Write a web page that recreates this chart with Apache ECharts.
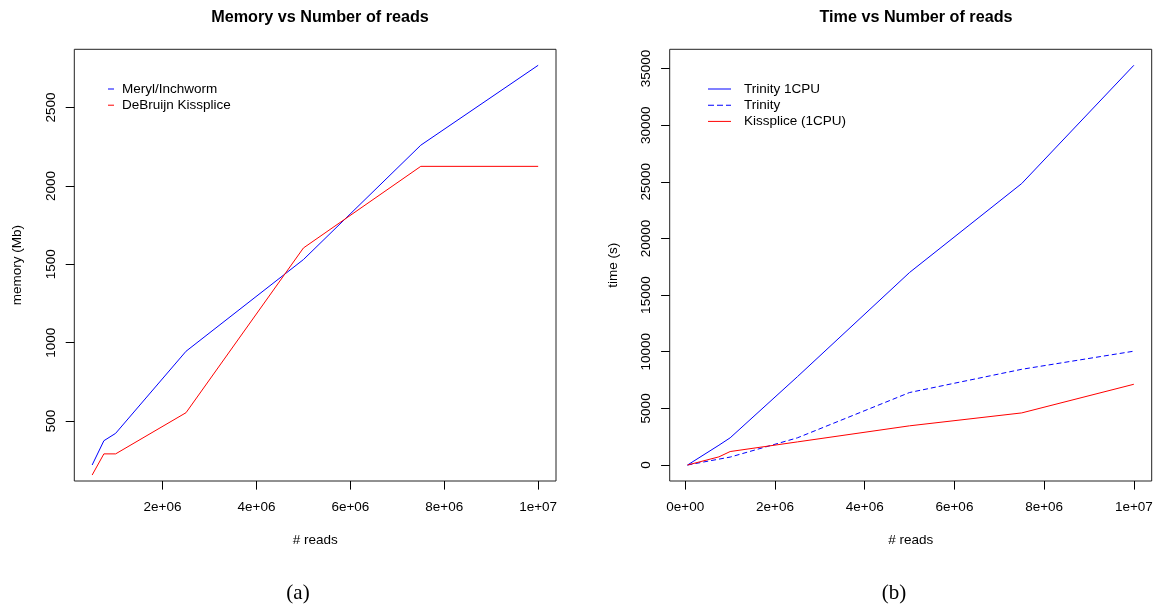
<!DOCTYPE html>
<html>
<head>
<meta charset="utf-8">
<script src="https://cdn.jsdelivr.net/npm/echarts@6/dist/echarts.min.js"></script>
<style>
html,body{margin:0;padding:0;background:#fff;}
#c{width:1160px;height:605px;}
</style>
</head>
<body>
<div id="c"></div>
<script>
// ---- data ----
const memReads = [5e5, 7.5e5, 1e6, 2.5e6, 5e6, 7.5e6, 1e7];
const merylMem = [219, 374, 421, 945, 1530, 2260, 2770];
const kissMem = [155, 290, 290, 553, 1604, 2125, 2125];

const timeReads = [5e4, 7.5e5, 1e6, 2.5e6, 5e6, 7.5e6, 1e7];
const trinity1cpu = [0, 1750, 2400, 7800, 17000, 24850, 35290];
const trinity = [0, 520, 700, 2400, 6400, 8450, 10050];
const kiss1cpu = [0, 720, 1190, 2040, 3460, 4600, 7130];

const memXTicks = [2e6, 4e6, 6e6, 8e6, 1e7];
const memXTickLabels = ['2e+06', '4e+06', '6e+06', '8e+06', '1e+07'];
const memYTicks = [500, 1000, 1500, 2000, 2500];
const timeXTicks = [0, 2e6, 4e6, 6e6, 8e6, 1e7];
const timeXTickLabels = ['0e+00', '2e+06', '4e+06', '6e+06', '8e+06', '1e+07'];
const timeYTicks = [0, 5000, 10000, 15000, 20000, 25000, 30000, 35000];

// ---- helpers ----
function rRange(arr) { // R's default 4% axis extension
  const mn = Math.min(...arr), mx = Math.max(...arr), r = mx - mn;
  return [mn - 0.04 * r, mx + 0.04 * r];
}
function pairs(xs, ys) { return xs.map((x, i) => [x, ys[i]]); }
function labelFor(ticks, labels) {
  return function (v) {
    for (let i = 0; i < ticks.length; i++) if (Math.abs(ticks[i] - v) < 1e-6 * Math.max(1, Math.abs(v))) return labels[i];
    return '';
  };
}

const FONT = 'Liberation Sans, Arial, Helvetica, sans-serif';
const FS = 13.5;

const mx = rRange(memReads), my = rRange(merylMem);
const tx = rRange(timeReads), ty = rRange(trinity1cpu);

function xAxis(gridIndex, range, ticks, labels) {
  return {
    type: 'value', gridIndex, min: range[0], max: range[1], position: 'bottom',
    name: '# reads', nameLocation: 'middle', nameGap: 52,
    nameTextStyle: { fontFamily: FONT, fontSize: FS, color: '#000' },
    axisLine: { show: false, onZero: false },
    axisTick: { show: true, length: 8.6, inside: false, customValues: ticks, lineStyle: { color: '#000', width: 1 } },
    axisLabel: { show: true, customValues: ticks, formatter: labelFor(ticks, labels), margin: 19,
      fontFamily: FONT, fontSize: FS, color: '#000' },
    splitLine: { show: false }
  };
}
function yAxis(gridIndex, range, ticks, name, gap) {
  return {
    type: 'value', gridIndex, min: range[0], max: range[1], position: 'left',
    name, nameLocation: 'middle', nameGap: gap, nameRotate: 90,
    nameTextStyle: { fontFamily: FONT, fontSize: FS, color: '#000' },
    axisLine: { show: false, onZero: false },
    axisTick: { show: true, length: 8.6, inside: false, customValues: ticks, lineStyle: { color: '#000', width: 1 } },
    axisLabel: { show: true, customValues: ticks, rotate: 90, margin: 16, formatter: v => String(v),
      fontFamily: FONT, fontSize: FS, color: '#000' },
    splitLine: { show: false }
  };
}

const SOLID_SHORT = 'path://M0,0H6V1H0Z';
const SOLID_LONG = 'path://M0,0H23V1H0Z';
const DASHED_LONG = 'path://M0,0H6V1H0Z M9,0H15V1H9Z M18,0H23V1H18Z';

const chart = echarts.init(document.getElementById('c'), null, { renderer: 'canvas' });
chart.setOption({
  backgroundColor: '#fff',
  animation: false,
  title: [
    { text: 'Memory vs Number of reads', left: 315, top: 5, textAlign: 'center',
      textStyle: { fontFamily: FONT, fontSize: 16.2, fontWeight: 'bold', color: '#000' } },
    { text: 'Time vs Number of reads', left: 911, top: 5, textAlign: 'center',
      textStyle: { fontFamily: FONT, fontSize: 16.2, fontWeight: 'bold', color: '#000' } },
    { text: '(a)', left: 293, top: 578, textAlign: 'center',
      textStyle: { fontFamily: 'Liberation Serif, DejaVu Serif, serif', fontSize: 21, fontWeight: 'normal', color: '#000' } },
    { text: '(b)', left: 889, top: 578, textAlign: 'center',
      textStyle: { fontFamily: 'Liberation Serif, DejaVu Serif, serif', fontSize: 21, fontWeight: 'normal', color: '#000' } }
  ],
  legend: [
    { data: [{ name: 'Meryl/Inchworm', icon: SOLID_SHORT }, { name: 'DeBruijn Kissplice', icon: SOLID_SHORT }],
      orient: 'vertical', left: 103, top: 77, padding: 5,
      itemWidth: 6, itemHeight: 14, itemGap: 2.2,
      textStyle: { fontFamily: FONT, fontSize: FS, color: '#000', padding: [0, 0, 0, 3] } },
    { data: [{ name: 'Trinity 1CPU', icon: SOLID_LONG }, { name: 'Trinity', icon: DASHED_LONG }, { name: 'Kissplice (1CPU)', icon: SOLID_LONG }],
      orient: 'vertical', left: 703, top: 77, padding: 5,
      itemWidth: 23, itemHeight: 14, itemGap: 2.2,
      textStyle: { fontFamily: FONT, fontSize: FS, color: '#000', padding: [0, 0, 0, 8] } }
  ],
  grid: [
    { left: 74.3, top: 49.3, width: 556 - 74.3, height: 481 - 49.3, show: true,
      borderColor: '#222', borderWidth: 1, backgroundColor: 'transparent' },
    { left: 669.7, top: 49.3, width: 1151.7 - 669.7, height: 481 - 49.3, show: true,
      borderColor: '#222', borderWidth: 1, backgroundColor: 'transparent' }
  ],
  xAxis: [
    xAxis(0, mx, memXTicks, memXTickLabels),
    xAxis(1, tx, timeXTicks, timeXTickLabels)
  ],
  yAxis: [
    yAxis(0, my, memYTicks, 'memory (Mb)', 50),
    yAxis(1, ty, timeYTicks, 'time (s)', 49)
  ],
  series: [
    { name: 'Meryl/Inchworm', type: 'line', xAxisIndex: 0, yAxisIndex: 0, data: pairs(memReads, merylMem),
      symbol: 'none', lineStyle: { color: '#0000ff', width: 1 }, itemStyle: { color: '#0000ff' } },
    { name: 'DeBruijn Kissplice', type: 'line', xAxisIndex: 0, yAxisIndex: 0, data: pairs(memReads, kissMem),
      symbol: 'none', lineStyle: { color: '#ff0000', width: 1 }, itemStyle: { color: '#ff0000' } },
    { name: 'Trinity 1CPU', type: 'line', xAxisIndex: 1, yAxisIndex: 1, data: pairs(timeReads, trinity1cpu),
      symbol: 'none', lineStyle: { color: '#0000ff', width: 1 }, itemStyle: { color: '#0000ff' } },
    { name: 'Trinity', type: 'line', xAxisIndex: 1, yAxisIndex: 1, data: pairs(timeReads, trinity),
      symbol: 'none', lineStyle: { color: '#0000ff', width: 1, type: [5, 3] }, itemStyle: { color: '#0000ff' } },
    { name: 'Kissplice (1CPU)', type: 'line', xAxisIndex: 1, yAxisIndex: 1, data: pairs(timeReads, kiss1cpu),
      symbol: 'none', lineStyle: { color: '#ff0000', width: 1 }, itemStyle: { color: '#ff0000' } }
  ]
});
</script>
</body>
</html>
